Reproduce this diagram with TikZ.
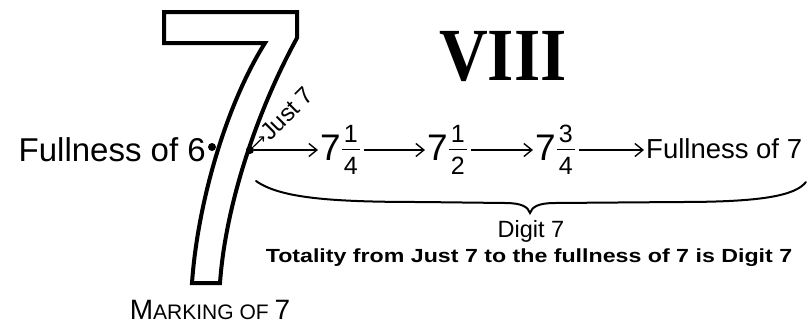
\documentclass[tikz,border=0pt]{standalone}
\usepackage{fontspec}
\setmainfont{Liberation Serif}
\setsansfont{Liberation Sans}
\usepackage{graphicx}
\usepackage{tikz}
\usetikzlibrary{calc,positioning,arrows.meta}

\newcommand{\sfsize}[1]{\sffamily\fontsize{#1}{#1}\selectfont}
\newcommand{\mixfrac}[3]{{\fontsize{37}{37}\selectfont#1}\kern1pt\raisebox{2pt}{\fontsize{25}{22}\selectfont\setlength{\tabcolsep}{2pt}\setlength{\arrayrulewidth}{1.4pt}\renewcommand{\arraystretch}{0.6}\begin{tabular}{c}#2\\[2pt]\hline\rule{0pt}{24pt}#3\end{tabular}}}

\begin{document}
\begin{tikzpicture}[
    x=1pt, y=-1pt,
    font=\sffamily,
    sevenline/.style={line width=4pt, line join=miter},
    dotmark/.style={circle, fill=black, inner sep=0pt, minimum size=8pt},
    txt/.style={inner sep=0pt},
    arr/.style={-{Straight Barb[length=8pt,width=13pt]}, line width=1.4pt},
    tinyarr/.style={-{Straight Barb[length=3.5pt,width=6pt]}, line width=1.2pt},
    bracepen/.style={line width=2pt, line cap=round}
  ]
    \useasboundingbox (0,0) rectangle (812,325);

    \draw[sevenline] (164,12) -- (297,12) -- (297,38)
      .. controls (258.5,108) and (225.6,203) .. (220,283) -- (192,283)
      .. controls (197.6,203) and (226,105) .. (265,43) -- (164,43) -- cycle;

    \node[txt, anchor=base, font=\rmfamily\bfseries\fontsize{75}{75}\selectfont] (roman) at (503,80) {\scalebox{0.9}[1]{VIII}};

    \node[dotmark] (d6) at (212,147) {};
    \node[dotmark] (jd) at (250,150) {};
    \node[txt, anchor=base east, font=\sfsize{33}] (full6) at (206,161) {Fullness of 6};
    \node[txt, anchor=base west, rotate=45, font=\sfsize{24}] (just) at (270,142) {Just 7};

    \node[txt, anchor=base west] (q1) at (320,160) {\mixfrac{7}{1}{4}};
    \node[txt, anchor=base west] (q2) at (427,160) {\mixfrac{7}{1}{2}};
    \node[txt, anchor=base west] (q3) at (535,160) {\mixfrac{7}{3}{4}};
    \node[txt, anchor=base west, font=\sfsize{27.5}] (full7) at (646,158) {Fullness of 7};

    \draw[tinyarr] (jd) -- (just.west);
    \draw[arr, shorten >=2pt] (jd) -- (q1.west |- jd);
    \draw[arr, shorten <=4pt, shorten >=2pt] (q1.east |- jd) -- (q2.west |- jd);
    \draw[arr, shorten <=4pt, shorten >=2pt] (q2.east |- jd) -- (q3.west |- jd);
    \draw[arr, shorten <=4pt, shorten >=2pt] (q3.east |- jd) -- (full7.west |- jd);

    \draw[bracepen] (256,181) .. controls (280,198) and (330,202) .. (420,202)
      -- (505,203) .. controls (522,203) and (528,207) .. (530,213)
      .. controls (532,207) and (538,203) .. (555,203) -- (680,202)
      .. controls (760,202) and (795,196) .. (806,182);

    \node[txt, anchor=base, font=\sfsize{23.5}] (digit) at (531,237) {Digit 7};
    \node[txt, anchor=base, font=\bfseries\sfsize{19}] (total) at (529,262) {\scalebox{1.22}[1]{Totality from Just 7 to the fullness of 7 is Digit 7}};
    \node[txt, anchor=base] (marking) at (210,319) {{\sfsize{28}M}{\sfsize{21}ARKING OF }{\sfsize{28}7}};
  \end{tikzpicture}
\end{document}
